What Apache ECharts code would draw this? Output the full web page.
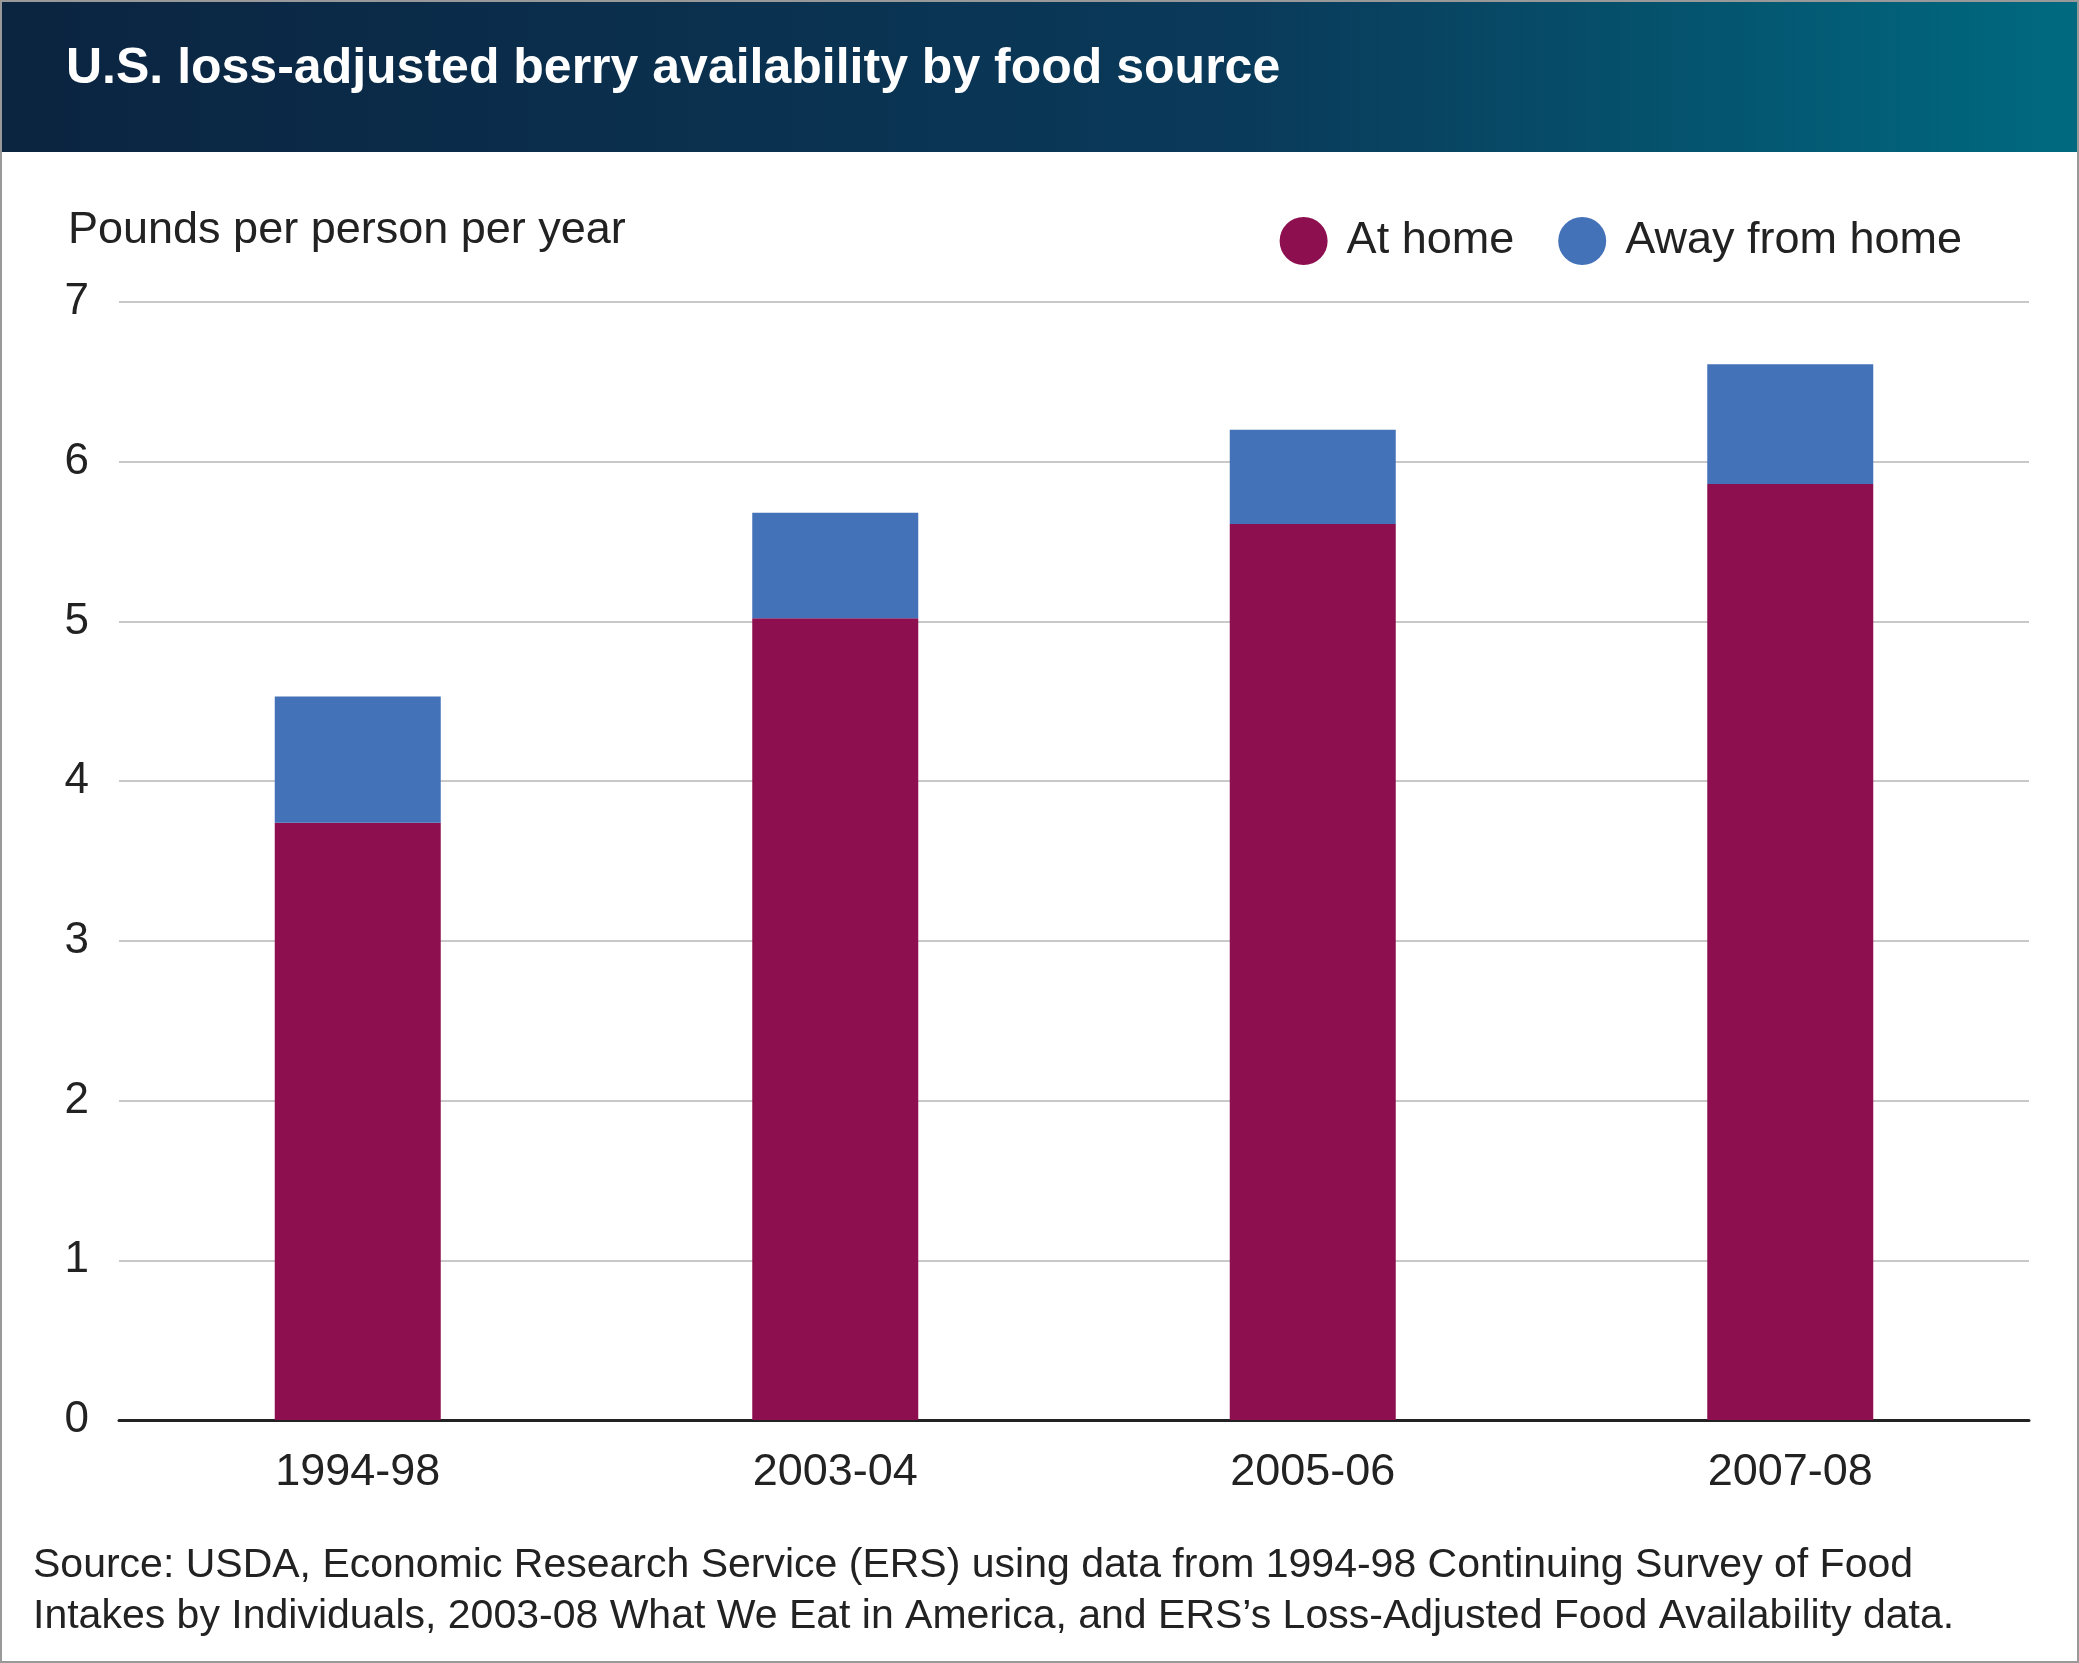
<!DOCTYPE html>
<html><head><meta charset="utf-8">
<script src="https://cdn.jsdelivr.net/npm/echarts@6/dist/echarts.min.js"></script>
<style>html,body{margin:0;padding:0;background:#fff}#c{width:2079px;height:1663px}</style>
</head><body><div id="c"></div>
<script>
const categories = ['1994-98','2003-04','2005-06','2007-08'];
const atHome = [3.74, 5.02, 5.61, 5.86];
const awayFromHome = [0.79, 0.66, 0.59, 0.75];
const yTicks = [0,1,2,3,4,5,6,7];
const FONT = 'Liberation Sans, Arial, sans-serif';
const chart = echarts.init(document.getElementById('c'));
chart.setOption({
  animation:false,
  graphic:[
    {type:'rect',shape:{x:0,y:0,width:2079,height:152},style:{fill:new echarts.graphic.LinearGradient(0,0,1,0,[{offset:0,color:'#0b2440'},{offset:0.6,color:'#0a3a5a'},{offset:1,color:'#006a80'}])}},
    {type:'text',left:66,top:44,style:{text:'U.S. loss-adjusted berry availability by food source',fill:'#fff',font:'bold 50px '+FONT}},
    {type:'text',left:68,top:208,style:{text:'Pounds per person per year',fill:'#222',font:'45px '+FONT}},
    {type:'text',left:33,top:1540,style:{text:'Source: USDA, Economic Research Service (ERS) using data from 1994-98 Continuing Survey of Food\nIntakes by Individuals, 2003-08 What We Eat in America, and ERS\u2019s Loss-Adjusted Food Availability data.',fill:'#222',font:'41px '+FONT,lineHeight:51}},
    {type:'rect',shape:{x:1,y:1,width:2077,height:1661},style:{fill:'none',stroke:'#999',lineWidth:2}}
  ],
  legend:{right:112,top:212,itemWidth:48,itemHeight:48,itemGap:44,icon:'circle',
    textStyle:{fontSize:45,fontFamily:FONT,color:'#222',padding:[0,0,0,14]},data:['At home','Away from home']},
  grid:{left:119,right:50,top:302,bottom:243},
  xAxis:{type:'category',data:categories,axisTick:{show:false},
    axisLine:{lineStyle:{color:'#222',width:3}},
    axisLabel:{fontSize:45,fontFamily:FONT,color:'#222',margin:30}},
  yAxis:{type:'value',min:yTicks[0],max:yTicks[yTicks.length-1],interval:1,
    splitLine:{lineStyle:{color:'#c8c8c8',width:2}},
    axisLabel:{fontSize:44,fontFamily:FONT,color:'#222',margin:30}},
  series:[
    {name:'At home',type:'bar',stack:'a',data:atHome,barWidth:166,itemStyle:{color:'#8e0f50'}},
    {name:'Away from home',type:'bar',stack:'a',data:awayFromHome,barWidth:166,itemStyle:{color:'#4472b8'}}
  ]
});
</script></body></html>
